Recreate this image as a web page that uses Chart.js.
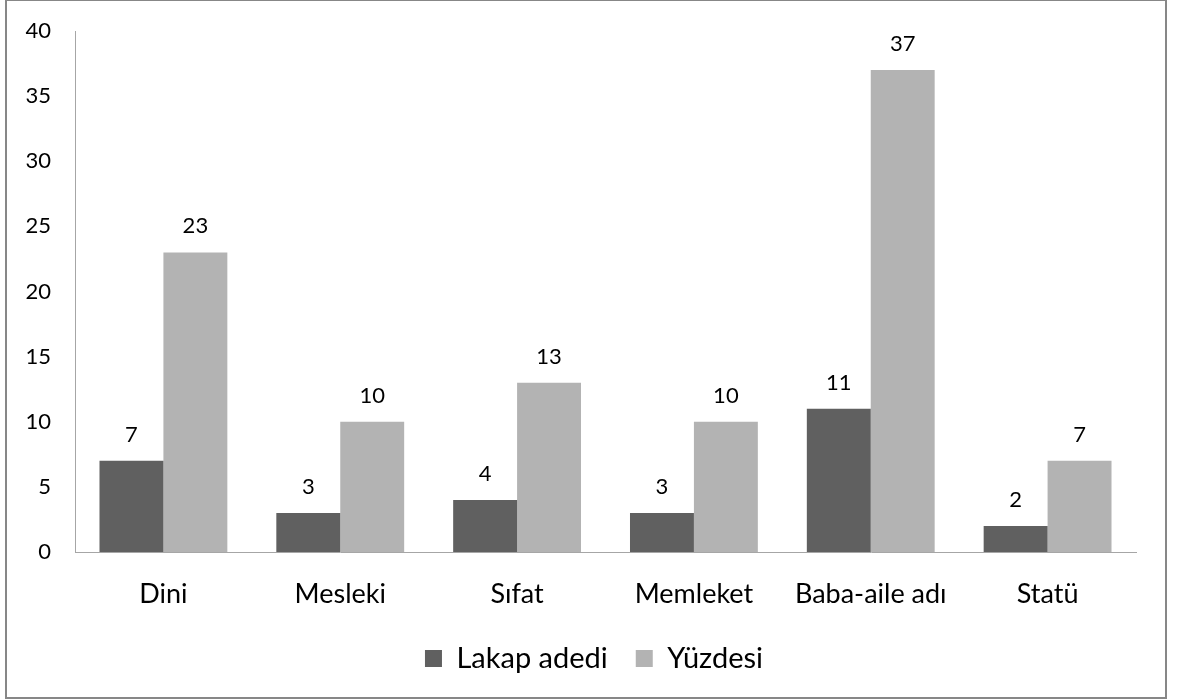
<!DOCTYPE html>
<html>
<head>
<meta charset="utf-8">
<script src="https://cdn.jsdelivr.net/npm/chart.js@4/dist/chart.umd.min.js"></script>
<style>
  html, body { margin: 0; padding: 0; background: #fff; }
  #wrap { position: absolute; left: 0; top: 0; width: 1177px; height: 699px; }
</style>
</head>
<body>
<div id="wrap"><canvas id="lakap-chart"></canvas></div>
<script>
var kategoriler = ["Dini", "Mesleki", "Sıfat", "Memleket", "Baba-aile adı", "Statü"];
var lakapAdedi = [7, 3, 4, 3, 11, 2];
var yuzdesi = [23, 10, 13, 10, 37, 7];
var yTicks = [0, 5, 10, 15, 20, 25, 30, 35, 40];

var fontAdi = "Lato, 'Liberation Sans', sans-serif";

// cerceve
var cerceve = {
	id: 'cerceve',
	beforeDraw: function(chart) {
		var ctx = chart.ctx;
		ctx.save();
		ctx.fillStyle = '#fff';
		ctx.fillRect(0, 0, chart.width, chart.height);
		ctx.strokeStyle = '#878787';
		ctx.lineWidth = 2;
		ctx.strokeRect(6, 0, 1160, 698);
		ctx.restore();
	}
};

// lejant biraz saga
var lejantKaydir = {
	id: 'lejantKaydir',
	afterLayout: function(chart) {
		chart.legend.left += 26;
		chart.legend.right += 26;
	}
};

// bar ustu degerler
var degerler = {
	id: 'degerler',
	afterDatasetsDraw: function(chart) {
		var ctx = chart.ctx;
		ctx.save();
		ctx.font = '22px ' + fontAdi;
		ctx.fillStyle = '#000';
		ctx.textAlign = 'center';
		ctx.textBaseline = 'alphabetic';
		chart.data.datasets.forEach(function(ds, i) {
			var meta = chart.getDatasetMeta(i);
			meta.data.forEach(function(bar, j) {
				ctx.fillText(ds.data[j], bar.x, bar.y - 19);
			});
		});
		ctx.restore();
	}
};

new Chart(document.getElementById("lakap-chart"), {
	type: 'bar',
	data: {
		labels: kategoriler,
		datasets: [
			{ label: "Lakap adedi", backgroundColor: "#606060", data: lakapAdedi },
			{ label: "Yüzdesi", backgroundColor: "#b3b3b3", data: yuzdesi }
		]
	},
	options: {
		responsive: true,
		maintainAspectRatio: false,
		animation: false,
		layout: { padding: { top: 31, right: 41, left: 0, bottom: 16 } },
		datasets: { bar: { categoryPercentage: 0.723, barPercentage: 1.0 } },
		plugins: {
			tooltip: { enabled: false },
			legend: {
				position: 'bottom',
				labels: {
					boxWidth: 17,
					boxHeight: 17,
					padding: 28,
					color: '#000',
					font: { family: fontAdi, size: 29 }
				}
			}
		},
		scales: {
			x: {
				grid: { display: false, drawTicks: false },
				border: { color: '#a6a6a6', width: 1 },
				ticks: { color: '#000', padding: 26, font: { family: fontAdi, size: 27 } },
				afterFit: function(scale) { scale.height = 64; }
			},
			y: {
				min: 0,
				max: 40,
				afterBuildTicks: function(scale) {
					scale.ticks = yTicks.map(function(v) { return { value: v }; });
				},
				grid: { display: false, drawTicks: false },
				border: { color: '#a6a6a6', width: 1 },
				ticks: { color: '#000', padding: 24, font: { family: fontAdi, size: 22 } },
				afterFit: function(scale) {
					scale.width = 75;
					scale.paddingTop = 0;
					scale.paddingBottom = 0;
				}
			}
		}
	},
	plugins: [cerceve, lejantKaydir, degerler]
});
</script>
</body>
</html>
